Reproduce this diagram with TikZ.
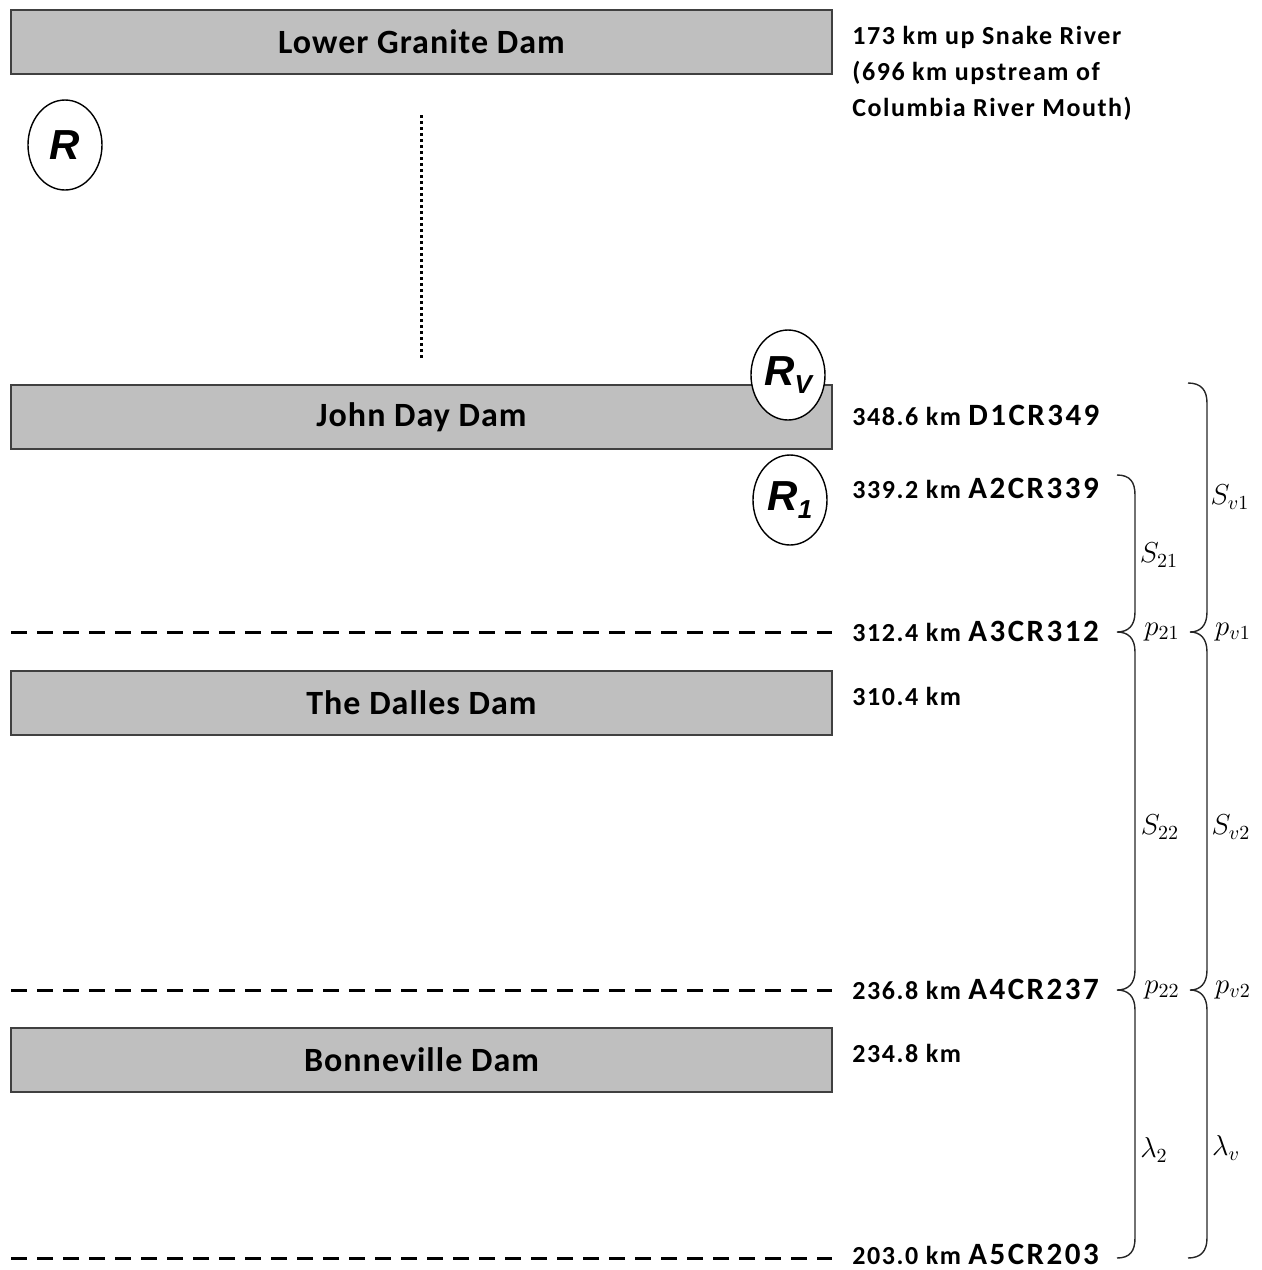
\documentclass[tikz,border=0pt]{standalone}
\usepackage{fontspec}
\setmainfont{Carlito}
\newfontfamily\labelfont{Carlito}[LetterSpace=6]
\newfontfamily\codefont{Carlito}[LetterSpace=8]
\newfontfamily\damfont{Carlito}[LetterSpace=3]
\newfontfamily\arialfont{Liberation Sans}
\usetikzlibrary{shapes.geometric,positioning}

\definecolor{damgray}{RGB}{191,191,191}
\definecolor{damline}{RGB}{64,64,64}

\tikzset{
  dam/.style={draw=damline, line width=1pt, fill=damgray, inner sep=0pt,
    minimum width=410.5pt, minimum height=32pt,
    font=\damfont\fontsize{17}{19}\bfseries\selectfont},
  release/.style={draw, ellipse, fill=white, line width=0.7pt, inner sep=0pt,
    minimum width=37pt, minimum height=45pt,
    font=\arialfont\fontsize{21}{21}\bfseries\itshape\selectfont},
  station/.style={anchor=base west, inner sep=0pt,
    font=\labelfont\fontsize{13}{14}\bfseries\selectfont},
  river/.style={line width=1.5pt, dash pattern=on 8pt off 5pt},
  brace/.style={line width=0.7pt, draw=black!85},
  param/.style={inner sep=0pt, font=\fontsize{14}{16}\selectfont}
}
\newcommand{\cd}[1]{{\codefont\fontsize{15.5}{16}\bfseries\selectfont #1}}

\begin{document}
\begin{tikzpicture}[x=0.5pt, y=-0.5pt]
  \useasboundingbox (0,0) rectangle (1262,1270);

  % dams
  \node[dam] (granite) at (421.5,42) {Lower Granite Dam};
  \node[dam] (johnday) at (421.5,417) {John Day Dam};
  \node[dam] (dalles) at (421.5,703) {The Dalles Dam};
  \node[dam] (bonneville) at (421.5,1060) {Bonneville Dam};

  % release sites
  \node[release] (rr) at (65,145) {R};
  \node[release] (rv) at (788,375) {R\raisebox{-0.35ex}{\fontsize{13}{13}\selectfont V}};
  \node[release] (r1) at (790,500) {R\raisebox{-0.35ex}{\fontsize{13}{13}\selectfont 1}};

  % distances
  \node[anchor=north west, inner sep=0pt, align=left,
    font=\labelfont\fontsize{13}{18}\bfseries\selectfont] (lgr) at (852,26)
    {173 km up Snake River\\(696 km upstream of\\Columbia River Mouth)};
  \node[station] (d1) at (852,425) {348.6 km \cd{D1CR349}};
  \node[station] (a2) at (852,498) {339.2 km \cd{A2CR339}};
  \node[station] (a3) at (852,641) {312.4 km \cd{A3CR312}};
  \node[station] (dal) at (852,705) {310.4 km};
  \node[station] (a4) at (852,999) {236.8 km \cd{A4CR237}};
  \node[station] (bon) at (852,1062) {234.8 km};
  \node[station] (a5) at (852,1264) {203.0 km \cd{A5CR203}};

  % river between dams
  \coordinate (dtop) at (421,115);
  \coordinate (dbot) at (421,360);
  \draw[line width=1.5pt, dash pattern=on 1.5pt off 1.5pt] (dtop) -- (dbot);

  % detection lines
  \draw[river] (11,632) -- (832,632);
  \draw[river] (11,990) -- (832,990);
  \draw[river] (11,1258) -- (832,1258);

  % inner brace
  \draw[brace] (1117,475) .. controls (1130,475) and (1135,482) .. (1135,495)
    -- (1135,612) .. controls (1135,626) and (1128,632) .. (1117,632)
    .. controls (1128,632) and (1135,638) .. (1135,652)
    -- (1135,970) .. controls (1135,984) and (1128,990) .. (1117,990)
    .. controls (1128,990) and (1135,996) .. (1135,1010)
    -- (1135,1238) .. controls (1135,1251) and (1130,1258) .. (1117,1258);

  % outer brace
  \draw[brace] (1188,383) .. controls (1201,383) and (1207,390) .. (1207,403)
    -- (1207,612) .. controls (1207,626) and (1200,632) .. (1190,632)
    .. controls (1200,632) and (1207,638) .. (1207,652)
    -- (1207,970) .. controls (1207,984) and (1200,990) .. (1190,990)
    .. controls (1200,990) and (1207,996) .. (1207,1010)
    -- (1207,1238) .. controls (1207,1251) and (1201,1258) .. (1188,1258);

  % survival and detection parameters
  \node[param] (s21) at (1159,555) {$S_{21}$};
  \node[param] (p21) at (1162,632) {$p_{21}$};
  \node[param] (s22) at (1160,827) {$S_{22}$};
  \node[param] (p22) at (1162,990) {$p_{22}$};
  \node[param] (l2) at (1154,1150) {$\lambda_2$};
  \node[param] (sv1) at (1230,497) {$S_{v1}$};
  \node[param] (pv1) at (1233,632) {$p_{v1}$};
  \node[param] (sv2) at (1231,827) {$S_{v2}$};
  \node[param] (pv2) at (1233,990) {$p_{v2}$};
  \node[param] (lv) at (1226,1148) {$\lambda_v$};

\end{tikzpicture}
\end{document}
